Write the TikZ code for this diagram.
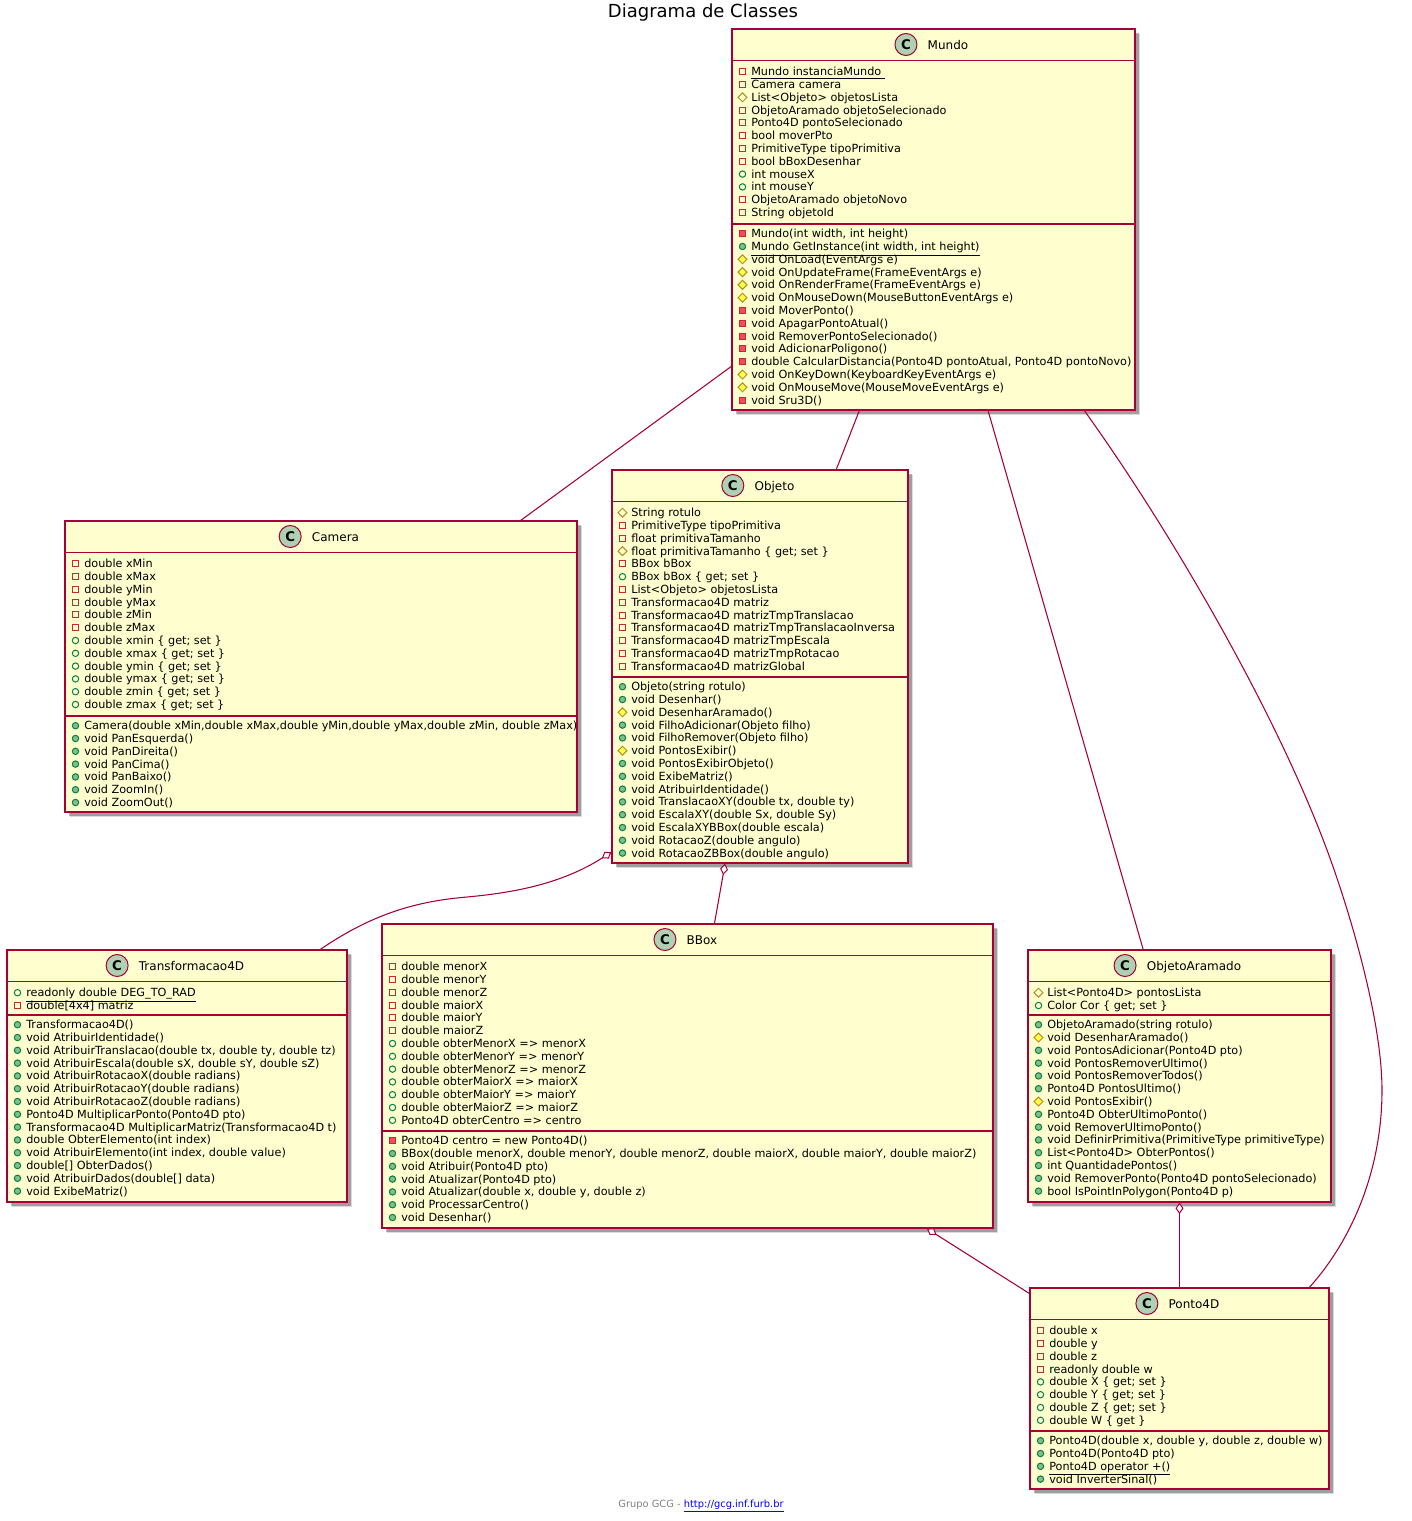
\documentclass[tikz,border=0pt]{standalone}
\usepackage{fontspec}
\setmainfont{DejaVu Sans}
\usetikzlibrary{arrows.meta,positioning,fit,calc,shadows,shapes.geometric}
\definecolor{borda}{HTML}{A80036}
\definecolor{fundo}{HTML}{FEFECE}
\definecolor{selofundo}{HTML}{ADD1B2}
\definecolor{vermelho}{HTML}{C82930}
\definecolor{vermelhoc}{HTML}{F24D5C}
\definecolor{ouro}{HTML}{B38D22}
\definecolor{amarelo}{HTML}{FFFF44}
\definecolor{verde}{HTML}{038048}
\definecolor{verdec}{HTML}{84BE84}
% id, nome, x0, y0, x1, y1, divisa, atributos, metodos
\newcommand{\classe}[9]{%
\node[caixa,fit={(#3,#4)(#5,#6)}] (#1) {};
\node[nome] (#1-nome) at ({(#3+#5)/2+14.5},{#4+15.5}) {#2};
\node[selo,left=7.5pt of #1-nome] (#1-selo) {C};
\draw[divisa] (#3,#4+31.7)--(#5,#4+31.7);
\draw[divisa] (#3,#7)--(#5,#7);
\foreach \vis/\txt [count=\i] in {#8}{
\node[\vis] (#1-a\i) at ({#3+10.5},{#4+42.7+(\i-1)*12.8}) {};
\node[membro] (#1-at\i) at ({#3+19},{#4+42.7+(\i-1)*12.8}) {\txt};
}
\foreach \vis/\txt [count=\i] in {#9}{
\node[m\vis] (#1-m\i) at ({#3+10.5},{#7+9.7+(\i-1)*12.8}) {};
\node[membro] (#1-mt\i) at ({#3+19},{#7+9.7+(\i-1)*12.8}) {\txt};
}
}
\begin{document}
\begin{tikzpicture}[x=.75pt,y=-.75pt,
caixa/.style={rectangle,draw=borda,fill=fundo,line width=.95pt,inner sep=0pt,drop shadow={shadow xshift=4pt,shadow yshift=-4pt,fill=black,opacity=.14},drop shadow={shadow xshift=2.8pt,shadow yshift=-2.8pt,fill=black,opacity=.28}},
nome/.style={font=\fontsize{9}{11}\selectfont,text=black,inner sep=0pt,text height=9pt,text depth=1pt},
selo/.style={circle,draw=borda,fill=selofundo,line width=.75pt,minimum size=16.5pt,inner sep=0pt,font=\fontsize{10}{12}\selectfont\bfseries},
divisa/.style={draw=borda,line width=.95pt},
membro/.style={anchor=west,font=\fontsize{8.42}{10}\selectfont,inner sep=0pt,text height=7.5pt,text depth=1.4pt},
priv/.style={rectangle,draw=vermelho,line width=.75pt,minimum size=4.6pt,inner sep=0pt},
mpriv/.style={priv,fill=vermelhoc},
prot/.style={diamond,aspect=1,draw=ouro,line width=.75pt,minimum size=7pt,inner sep=0pt},
mprot/.style={prot,fill=amarelo},
publ/.style={circle,draw=verde,line width=.75pt,minimum size=4.8pt,inner sep=0pt},
mpubl/.style={publ,fill=verdec},
liga/.style={draw=borda,line width=.8pt},
agrega/.style={{Diamond[open,fill=white,length=8.5pt,width=6pt,line width=.75pt]}-}]
\useasboundingbox (0,0) rectangle (1412,1521);
\node[font=\fontsize{13.5}{16}\selectfont,inner sep=0pt] (titulo) at (703,13) {Diagrama de Classes};
\classe{mundo}{Mundo}{732}{29}{1135}{410}{224}
{priv/\underline{Mundo instanciaMundo\ },priv/Camera camera,prot/List<Objeto> objetosLista,priv/ObjetoAramado objetoSelecionado,priv/Ponto4D pontoSelecionado,priv/bool moverPto,priv/PrimitiveType tipoPrimitiva,priv/bool bBoxDesenhar,publ/int mouseX,publ/int mouseY,priv/ObjetoAramado objetoNovo,priv/String objetoId}
{priv/{Mundo(int width, int height)},publ/{\underline{Mundo GetInstance(int width, int height)}},prot/void OnLoad(EventArgs e),prot/void OnUpdateFrame(FrameEventArgs e),prot/void OnRenderFrame(FrameEventArgs e),prot/void OnMouseDown(MouseButtonEventArgs e),priv/void MoverPonto(),priv/void ApagarPontoAtual(),priv/void RemoverPontoSelecionado(),priv/void AdicionarPoligono(),priv/{double CalcularDistancia(Ponto4D pontoAtual, Ponto4D pontoNovo)},prot/void OnKeyDown(KeyboardKeyEventArgs e),prot/void OnMouseMove(MouseMoveEventArgs e),priv/void Sru3D()}
\classe{camera}{Camera}{65}{521}{577}{812}{716}
{priv/double xMin,priv/double xMax,priv/double yMin,priv/double yMax,priv/double zMin,priv/double zMax,publ/double xmin \{ get; set \},publ/double xmax \{ get; set \},publ/double ymin \{ get; set \},publ/double ymax \{ get; set \},publ/double zmin \{ get; set \},publ/double zmax \{ get; set \}}
{publ/{Camera(double xMin,double xMax,double yMin,double yMax,double zMin, double zMax)},publ/void PanEsquerda(),publ/void PanDireita(),publ/void PanCima(),publ/void PanBaixo(),publ/void ZoomIn(),publ/void ZoomOut()}
\classe{objeto}{Objeto}{612}{470}{908}{863}{677}
{prot/String rotulo,priv/PrimitiveType tipoPrimitiva,priv/float primitivaTamanho,prot/float primitivaTamanho \{ get; set \},priv/BBox bBox,publ/BBox bBox \{ get; set \},priv/List<Objeto> objetosLista,priv/Transformacao4D matriz,priv/Transformacao4D matrizTmpTranslacao,priv/Transformacao4D matrizTmpTranslacaoInversa,priv/Transformacao4D matrizTmpEscala,priv/Transformacao4D matrizTmpRotacao,priv/Transformacao4D matrizGlobal}
{publ/Objeto(string rotulo),publ/void Desenhar(),prot/void DesenharAramado(),publ/void FilhoAdicionar(Objeto filho),publ/void FilhoRemover(Objeto filho),prot/void PontosExibir(),publ/void PontosExibirObjeto(),publ/void ExibeMatriz(),publ/void AtribuirIdentidade(),publ/{void TranslacaoXY(double tx, double ty)},publ/{void EscalaXY(double Sx, double Sy)},publ/void EscalaXYBBox(double escala),publ/void RotacaoZ(double angulo),publ/void RotacaoZBBox(double angulo)}
\classe{transf}{Transformacao4D}{7}{950}{347}{1202}{1015}
{publ/\underline{readonly double DEG\_TO\_RAD},priv/double[4x4] matriz}
{publ/Transformacao4D(),publ/void AtribuirIdentidade(),publ/{void AtribuirTranslacao(double tx, double ty, double tz)},publ/{void AtribuirEscala(double sX, double sY, double sZ)},publ/void AtribuirRotacaoX(double radians),publ/void AtribuirRotacaoY(double radians),publ/void AtribuirRotacaoZ(double radians),publ/Ponto4D MultiplicarPonto(Ponto4D pto),publ/Transformacao4D MultiplicarMatriz(Transformacao4D t),publ/double ObterElemento(int index),publ/{void AtribuirElemento(int index, double value)},publ/double[] ObterDados(),publ/void AtribuirDados(double[] data),publ/void ExibeMatriz()}
\classe{bbox}{BBox}{382}{924}{993}{1228}{1131}
{priv/double menorX,priv/double menorY,priv/double menorZ,priv/double maiorX,priv/double maiorY,priv/double maiorZ,publ/double obterMenorX => menorX,publ/double obterMenorY => menorY,publ/double obterMenorZ => menorZ,publ/double obterMaiorX => maiorX,publ/double obterMaiorY => maiorY,publ/double obterMaiorZ => maiorZ,publ/Ponto4D obterCentro => centro}
{priv/Ponto4D centro = new Ponto4D(),publ/{BBox(double menorX, double menorY, double menorZ, double maiorX, double maiorY, double maiorZ)},publ/void Atribuir(Ponto4D pto),publ/void Atualizar(Ponto4D pto),publ/{void Atualizar(double x, double y, double z)},publ/void ProcessarCentro(),publ/void Desenhar()}
\classe{aramado}{ObjetoAramado}{1028}{950}{1331}{1202}{1015}
{prot/List<Ponto4D> pontosLista,publ/Color Cor \{ get; set \}}
{publ/ObjetoAramado(string rotulo),prot/void DesenharAramado(),publ/void PontosAdicionar(Ponto4D pto),publ/void PontosRemoverUltimo(),publ/void PontosRemoverTodos(),publ/Ponto4D PontosUltimo(),prot/void PontosExibir(),publ/Ponto4D ObterUltimoPonto(),publ/void RemoverUltimoPonto(),publ/void DefinirPrimitiva(PrimitiveType primitiveType),publ/List<Ponto4D> ObterPontos(),publ/int QuantidadePontos(),publ/void RemoverPonto(Ponto4D pontoSelecionado),publ/bool IsPointInPolygon(Ponto4D p)}
\classe{ponto}{Ponto4D}{1030}{1288}{1329}{1489}{1431}
{priv/double x,priv/double y,priv/double z,priv/readonly double w,publ/double X \{ get; set \},publ/double Y \{ get; set \},publ/double Z \{ get; set \},publ/double W \{ get \}}
{publ/{Ponto4D(double x, double y, double z, double w)},publ/Ponto4D(Ponto4D pto),publ/\underline{Ponto4D operator +()},publ/void InverterSinal()}
\draw[liga] (mundo)--(camera);
\draw[liga] (mundo)--(objeto);
\draw[liga] (mundo)--(aramado);
\draw[liga] ($(mundo.south west)+(353,0)$) .. controls (1170,530) and (1275,710) .. (1327,850) .. controls (1350,912) and (1382,1020) .. (1382,1090) .. controls (1382,1170) and (1352,1240) .. ($(ponto.north west)+(280,0)$);
\draw[liga,agrega] ($(objeto.south west)+(0,-11.5)$) .. controls (560,885) and (510,893) .. (467,897) .. controls (420,901) and (375,912) .. ($(transf.north west)+(314,0)$);
\draw[liga,agrega] (objeto)--(bbox);
\draw[liga,agrega] (bbox)--(ponto);
\draw[liga,agrega] (aramado)--(ponto);
\node[font=\fontsize{7.4}{9}\selectfont,inner sep=0pt,text=gray] (rodape) at (701,1506) {Grupo GCG - \textcolor{blue}{\underline{http://gcg.inf.furb.br}}};
\end{tikzpicture}
\end{document}
